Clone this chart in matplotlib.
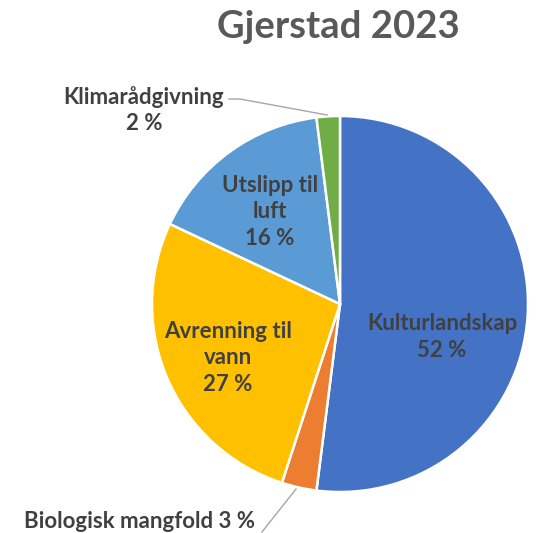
import matplotlib
matplotlib.use("Agg")
import matplotlib.pyplot as plt

categories = ["Kulturlandskap", "Biologisk mangfold", "Avrenning til vann",
              "Utslipp til luft", "Klimarådgivning"]
shares = [52, 3, 27, 16, 2]
colors = ["#4472C4", "#ED7D31", "#FFC000", "#5B9BD5", "#70AD47"]
title = "Gjerstad 2023"

W, H = 539, 533
fig = plt.figure(figsize=(W / 100, H / 100), dpi=100)
ax = fig.add_axes([0, 0, 1, 1])
ax.set_xlim(0, W)
ax.set_ylim(0, H)
ax.set_aspect("equal")
ax.axis("off")

cx, cy, r = 340, H - 304, 188
ax.pie(shares, colors=colors, startangle=90, counterclock=False,
       center=(cx, cy), radius=r, frame=True,
       wedgeprops=dict(edgecolor="white", linewidth=1.8))
ax.set_xlim(0, W)
ax.set_ylim(0, H)
ax.axis("off")

font = dict(family="Lato", fontweight="bold", color="#404040", fontsize=16,
            ha="center", va="center", linespacing=1.3)

def pct(i):
    return f"{shares[i]} %"

# labels inside slices
ax.text(442, H - 337, f"{categories[0]}\n{pct(0)}", **font)
ax.text(228, H - 358, "Avrenning til\nvann\n" + pct(2), **font)
ax.text(270, H - 212, "Utslipp til\nluft\n" + pct(3), **font)

# outside labels with leader lines
ax.text(144, H - 110, f"{categories[4]}\n{pct(4)}", **font)
ax.text(140, H - 521, f"{categories[1]} {pct(1)}", **font)

lc = "#A6A6A6"
ax.plot([229, 240, 327], [H - 99, H - 99, H - 115], color=lc, lw=1.0)
ax.plot([296, 262], [H - 489, H - 532], color=lc, lw=1.0)

ax.text(338, H - 27, title, family="Lato", fontweight="bold", fontsize=27.5,
        color="#595959", ha="center", va="center")

fig.savefig("out.png", dpi=100)
